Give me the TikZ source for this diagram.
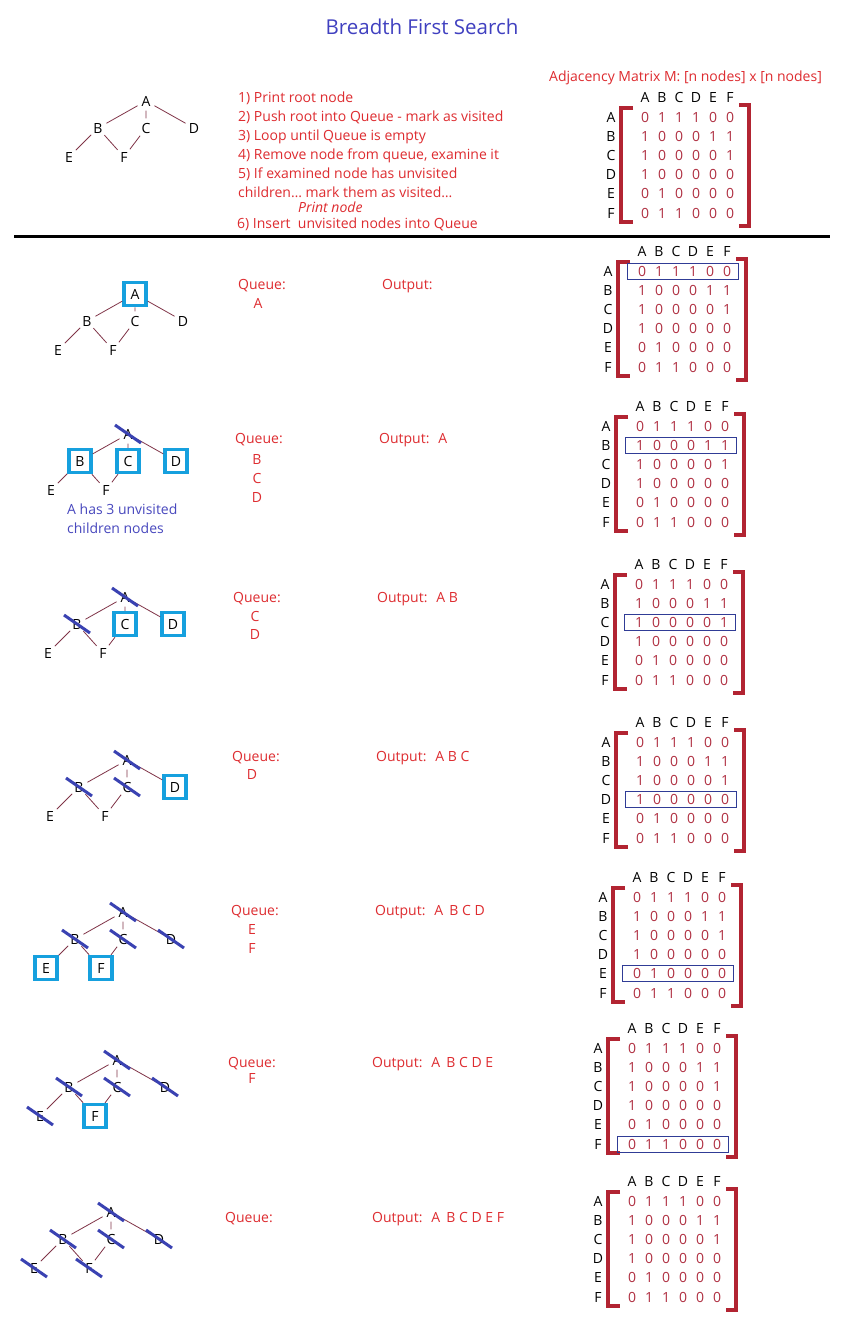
\documentclass[tikz,border=0pt]{standalone}
\usepackage{fontspec}
\setmainfont{Open Sans}
\usetikzlibrary{calc}
\definecolor{txtred}{RGB}{222,44,48}
\definecolor{matred}{RGB}{176,48,66}
\definecolor{brred}{RGB}{178,36,50}
\definecolor{edgecol}{RGB}{128,52,72}
\definecolor{titleblue}{RGB}{64,64,192}
\definecolor{noteblue}{RGB}{72,72,190}
\definecolor{strikeblue}{RGB}{58,66,178}
\definecolor{boxcyan}{RGB}{22,160,222}
\definecolor{hlblue}{RGB}{48,60,150}
\newcommand{\fsz}{\fontsize{14}{16}\selectfont}
\tikzset{
  txt/.style={anchor=west, inner sep=0pt, text=txtred, font=\fsz, text height=10pt, text depth=0pt},
  qitem/.style={anchor=center, inner sep=0pt, text=txtred, font=\fsz, text height=10pt, text depth=0pt},
  note/.style={anchor=west, inner sep=0pt, text=noteblue, font=\fsz, text height=10pt, text depth=0pt},
  gnode/.style={circle, inner sep=0pt, minimum size=19pt, font=\fontsize{14}{16}\selectfont, text=black},
  boxed/.style={rectangle, draw=boxcyan, line width=3.5pt, minimum width=22pt, minimum height=23pt},
  plain/.style={},
  edge/.style={draw=edgecol, line width=0.8pt},
  strikeline/.style={draw=strikeblue, line width=3pt},
  bracket/.style={draw=brred, line width=3.8pt},
  hl/.style={draw=hlblue, line width=1pt},
  mlab/.style={inner sep=0pt, font=\fsz, text=black, text height=10pt, text depth=0pt},
  mval/.style={inner sep=0pt, font=\fsz, text=matred, text height=10pt, text depth=0pt},
}
% graph: prefix, x, y, styles of A..F
\newcommand{\bfsgraph}[9]{%
  \node[gnode,#4] (#1A) at (#2,#3) {A};
  \node[gnode,#5] (#1B) at (#2-48,#3+27) {B};
  \node[gnode,#6] (#1C) at (#2,#3+27) {C};
  \node[gnode,#7] (#1D) at (#2+48,#3+27) {D};
  \node[gnode,#8] (#1E) at (#2-77,#3+56) {E};
  \node[gnode,#9] (#1F) at (#2-22,#3+56) {F};
  \draw[edge] (#1A) -- (#1B) (#1A) -- (#1C) (#1A) -- (#1D)
              (#1B) -- (#1E) (#1B) -- (#1F) (#1C) -- (#1F);
}
\newcommand{\strikenode}[1]{%
  \draw[strikeline] ([shift={(-13,-9)}]#1.center) -- ([shift={(13,9)}]#1.center);
}
% matrix: prefix, hx, hy, highlighted row (0 = none)
\newcommand{\adjmat}[4]{%
  \begin{scope}[shift={(#2,#3)}]
    \foreach \c [count=\i from 0] in {A,B,C,D,E,F} {\node[mlab] (#1h\c) at (17*\i,0) {\c};}
    \foreach \r/\a/\b/\c/\d/\e/\f [count=\j from 0] in
      {A/0/1/1/1/0/0, B/1/0/0/0/1/1, C/1/0/0/0/0/1, D/1/0/0/0/0/0, E/0/1/0/0/0/0, F/0/1/1/0/0/0} {
      \node[mlab] (#1r\r) at (-34,20+19.2*\j) {\r};
      \node[mval] (#1v\r1) at (0,20+19.2*\j) {\a};
      \node[mval] (#1v\r2) at (17,20+19.2*\j) {\b};
      \node[mval] (#1v\r3) at (34,20+19.2*\j) {\c};
      \node[mval] (#1v\r4) at (51,20+19.2*\j) {\d};
      \node[mval] (#1v\r5) at (68,20+19.2*\j) {\e};
      \node[mval] (#1v\r6) at (85,20+19.2*\j) {\f};
    }
    \draw[bracket] (-12,11) -- (-24,11) -- (-24,125) -- (-12,125);
    \draw[bracket] (94,8) -- (104,8) -- (104,129) -- (94,129);
    \ifnum#4>0 \draw[hl] (-15,{12+19.2*(#4-1)}) rectangle (96,{28+19.2*(#4-1)});\fi
  \end{scope}
}
\begin{document}
\begin{tikzpicture}[x=1pt,y=-1pt]
\useasboundingbox[fill=white] (0,0) rectangle (846,1334);

% title
\node[font=\fontsize{20.5}{24}\selectfont, text=titleblue, inner sep=0pt] (title) at (422,27) {Breadth First Search};

% ---------- header section ----------
\bfsgraph{g0}{146}{101}{plain}{plain}{plain}{plain}{plain}{plain}
\node[txt] (i1) at (238,97) {1) Print root node};
\node[txt] (i2) at (238,116) {2) Push root into Queue - mark as visited};
\node[txt] (i3) at (238,135) {3) Loop until Queue is empty};
\node[txt] (i4) at (238,154) {4) Remove node from queue, examine it};
\node[txt] (i5) at (238,173) {5) If examined node has unvisited};
\node[txt] (i5b) at (238,192) {children\dots\ mark them as visited\dots};
\node[txt, font=\fsz\itshape] (i5c) at (298,207) {Print node};
\node[txt] (i6) at (237,223) {6) Insert\ \ unvisited nodes into Queue};
\node[txt] (mtitle) at (549,76) {Adjacency Matrix M: [n nodes] x [n nodes]};
\adjmat{m0}{645}{97}{0}

\coordinate (ruleL) at (14,236);
\coordinate (ruleR) at (830,236);
\draw[line width=3pt] (ruleL) -- (ruleR);

% ---------- step 1 ----------
\bfsgraph{g1}{135}{294}{boxed}{plain}{plain}{plain}{plain}{plain}
\node[txt] (q1) at (238,284) {Queue:};
\node[qitem] (q1a) at (258,303) {A};
\node[txt] (o1) at (382,284) {Output:};
\adjmat{m1}{642}{251}{1}

% ---------- step 2 ----------
\bfsgraph{g2}{128}{434}{plain}{boxed}{boxed}{boxed}{plain}{plain}
\strikenode{g2A}
\node[note] (n1) at (67,509) {A has 3 unvisited};
\node[note] (n2) at (67,528) {children nodes};
\node[txt] (q2) at (235,438) {Queue:};
\node[qitem] (q2a) at (257,459) {B};
\node[qitem] (q2b) at (257,478) {C};
\node[qitem] (q2c) at (257,497) {D};
\node[txt] (o2) at (379,438) {Output:\hspace{9pt}A};
\adjmat{m2}{640}{406}{2}

% ---------- step 3 ----------
\bfsgraph{g3}{125}{597}{plain}{plain}{boxed}{boxed}{plain}{plain}
\strikenode{g3A}\strikenode{g3B}
\node[txt] (q3) at (233,597) {Queue:};
\node[qitem] (q3a) at (255,616) {C};
\node[qitem] (q3b) at (255,634) {D};
\node[txt] (o3) at (377,597) {Output:\hspace{9pt}A B};
\adjmat{m3}{639}{564}{3}

% ---------- step 4 ----------
\bfsgraph{g4}{127}{760}{plain}{plain}{plain}{boxed}{plain}{plain}
\strikenode{g4A}\strikenode{g4B}\strikenode{g4C}
\node[txt] (q4) at (232,756) {Queue:};
\node[qitem] (q4a) at (252,774) {D};
\node[txt] (o4) at (376,756) {Output:\hspace{9pt}A B C};
\adjmat{m4}{640}{722}{4}

% ---------- step 5 ----------
\bfsgraph{g5}{123}{912}{plain}{plain}{plain}{plain}{boxed}{boxed}
\strikenode{g5A}\strikenode{g5B}\strikenode{g5C}\strikenode{g5D}
\node[txt] (q5) at (231,910) {Queue:};
\node[qitem] (q5a) at (252,929) {E};
\node[qitem] (q5b) at (252,948) {F};
\node[txt] (o5) at (375,910) {Output:\hspace{9pt}A\hspace{6pt}B C D};
\adjmat{m5}{637}{877}{5}

% ---------- step 6 ----------
\bfsgraph{g6}{117}{1060}{plain}{plain}{plain}{plain}{plain}{boxed}
\strikenode{g6A}\strikenode{g6B}\strikenode{g6C}\strikenode{g6D}\strikenode{g6E}
\node[txt] (q6) at (228,1062) {Queue:};
\node[qitem] (q6a) at (252,1078) {F};
\node[txt] (o6) at (372,1062) {Output:\hspace{9pt}A\hspace{6pt}B C D E};
\adjmat{m6}{632}{1028}{6}

% ---------- step 7 ----------
\bfsgraph{g7}{111}{1212}{plain}{plain}{plain}{plain}{plain}{plain}
\strikenode{g7A}\strikenode{g7B}\strikenode{g7C}\strikenode{g7D}\strikenode{g7E}\strikenode{g7F}
\node[txt] (q7) at (225,1217) {Queue:};
\node[txt] (o7) at (372,1217) {Output:\hspace{9pt}A\hspace{6pt}B C D E F};
\adjmat{m7}{632}{1181}{0}
\end{tikzpicture}
\end{document}
